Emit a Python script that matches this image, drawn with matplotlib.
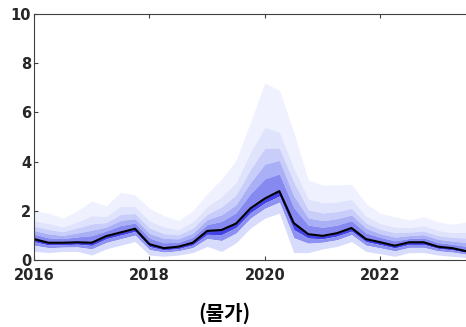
import numpy as np
import matplotlib
matplotlib.use("Agg")
import matplotlib.pyplot as plt

# quarterly dates, 2016Q1 .. 2023Q3
dates = np.arange(2016.0, 2023.51, 0.25)

# median forecast path
median = [0.85, 0.70, 0.70, 0.72, 0.70, 0.97, 1.12, 1.27, 0.64, 0.48, 0.54, 0.70,
          1.18, 1.22, 1.48, 2.10, 2.50, 2.80, 1.50, 1.05, 0.98, 1.09, 1.30, 0.85,
          0.72, 0.58, 0.72, 0.72, 0.54, 0.48, 0.35]

# upper quantiles, outermost first
upper1 = [2.00, 1.90, 1.70, 2.00, 2.40, 2.20, 2.75, 2.65, 2.10, 1.80, 1.60, 2.00,
          2.70, 3.30, 4.05, 5.60, 7.20, 6.90, 5.20, 3.25, 3.05, 3.05, 3.08, 2.30,
          1.90, 1.75, 1.63, 1.75, 1.55, 1.45, 1.55]
upper2 = [1.60, 1.48, 1.35, 1.55, 1.80, 1.77, 2.18, 2.17, 1.59, 1.34, 1.23, 1.55,
          2.17, 2.57, 3.15, 4.38, 5.40, 5.20, 3.75, 2.48, 2.33, 2.36, 2.46, 1.79,
          1.49, 1.34, 1.31, 1.39, 1.20, 1.11, 1.13]
upper3 = [1.37, 1.24, 1.15, 1.30, 1.47, 1.52, 1.85, 1.89, 1.30, 1.07, 1.02, 1.29,
          1.86, 2.16, 2.64, 3.68, 4.55, 4.55, 3.17, 2.04, 1.91, 1.97, 2.10, 1.50,
          1.25, 1.11, 1.13, 1.18, 0.99, 0.92, 0.89]
upper4 = [1.20, 1.06, 1.00, 1.10, 1.21, 1.34, 1.61, 1.68, 1.08, 0.88, 0.86, 1.09,
          1.64, 1.84, 2.25, 3.15, 3.90, 4.05, 2.61, 1.71, 1.60, 1.68, 1.83, 1.29,
          1.07, 0.93, 0.99, 1.03, 0.84, 0.77, 0.71]
upper5 = [1.05, 0.90, 0.87, 0.94, 0.99, 1.18, 1.40, 1.50, 0.89, 0.70, 0.72, 0.92,
          1.44, 1.57, 1.92, 2.70, 3.30, 3.50, 2.13, 1.42, 1.33, 1.42, 1.60, 1.10,
          0.92, 0.78, 0.87, 0.90, 0.71, 0.64, 0.55]

# lower quantiles, innermost first
lower3 = [0.74, 0.61, 0.62, 0.64, 0.59, 0.86, 1.01, 1.16, 0.54, 0.41, 0.46, 0.61,
          1.04, 1.03, 1.32, 1.92, 2.32, 2.60, 1.23, 0.89, 0.86, 0.97, 1.17, 0.74,
          0.62, 0.49, 0.63, 0.63, 0.47, 0.41, 0.30]
lower2 = [0.60, 0.50, 0.52, 0.53, 0.45, 0.71, 0.86, 1.01, 0.42, 0.32, 0.37, 0.50,
          0.87, 0.79, 1.09, 1.70, 2.10, 2.35, 0.90, 0.68, 0.72, 0.82, 1.03, 0.60,
          0.49, 0.37, 0.51, 0.51, 0.37, 0.32, 0.23]
lower1 = [0.35, 0.30, 0.35, 0.35, 0.20, 0.45, 0.60, 0.75, 0.20, 0.15, 0.20, 0.30,
          0.55, 0.35, 0.70, 1.30, 1.70, 1.90, 0.30, 0.30, 0.45, 0.55, 0.75, 0.35,
          0.25, 0.15, 0.30, 0.30, 0.20, 0.15, 0.10]

yticks = [0, 2, 4, 6, 8, 10]
xticks = [2016, 2018, 2020, 2022]
title = "(물가)"

fig = plt.figure(figsize=(4.66, 3.27), dpi=100)
ax = fig.add_axes([0.073, 0.205, 0.96, 0.752])

# fan bands above the median, light to dark
up_levels = [upper1, upper2, upper3, upper4, upper5, median]
up_colors = ["#eff2fe", "#dfe3fc", "#c8cdfa", "#aab0f6", "#8589f0", "#5658e8"]
for i in range(len(up_levels) - 1):
    ax.fill_between(dates, up_levels[i + 1], up_levels[i], color=up_colors[i],
                    linewidth=0)
# fan bands below the median, dark to light
lo_levels = [median, lower3, lower2, lower1]
lo_colors = ["#4444e6", "#8d91f1", "#d8dcfc"]
for i in range(len(lo_levels) - 1):
    ax.fill_between(dates, lo_levels[i + 1], lo_levels[i], color=lo_colors[i],
                    linewidth=0)

ax.plot(dates, median, color="black", linewidth=1.5)

ax.set_xlim(2016, 2023.75)
ax.set_ylim(0, 10)
ax.set_xticks(xticks)
ax.set_yticks(yticks)
ax.tick_params(direction="in", length=3, color="#404040", labelcolor="#262626",
               labelsize=10.5, top=True, pad=2)
ax.tick_params(axis="x", pad=6)
for lab in ax.get_xticklabels() + ax.get_yticklabels():
    lab.set_fontweight("bold")
for side in ["left", "bottom", "top"]:
    ax.spines[side].set_color("#404040")
ax.spines["right"].set_visible(False)

fig.text(0.481, 0.043, title, ha="center", va="center", fontsize=14.5,
         fontweight="bold", family=["Noto Sans CJK KR", "DejaVu Sans"])

fig.savefig("out.png", dpi=100)
